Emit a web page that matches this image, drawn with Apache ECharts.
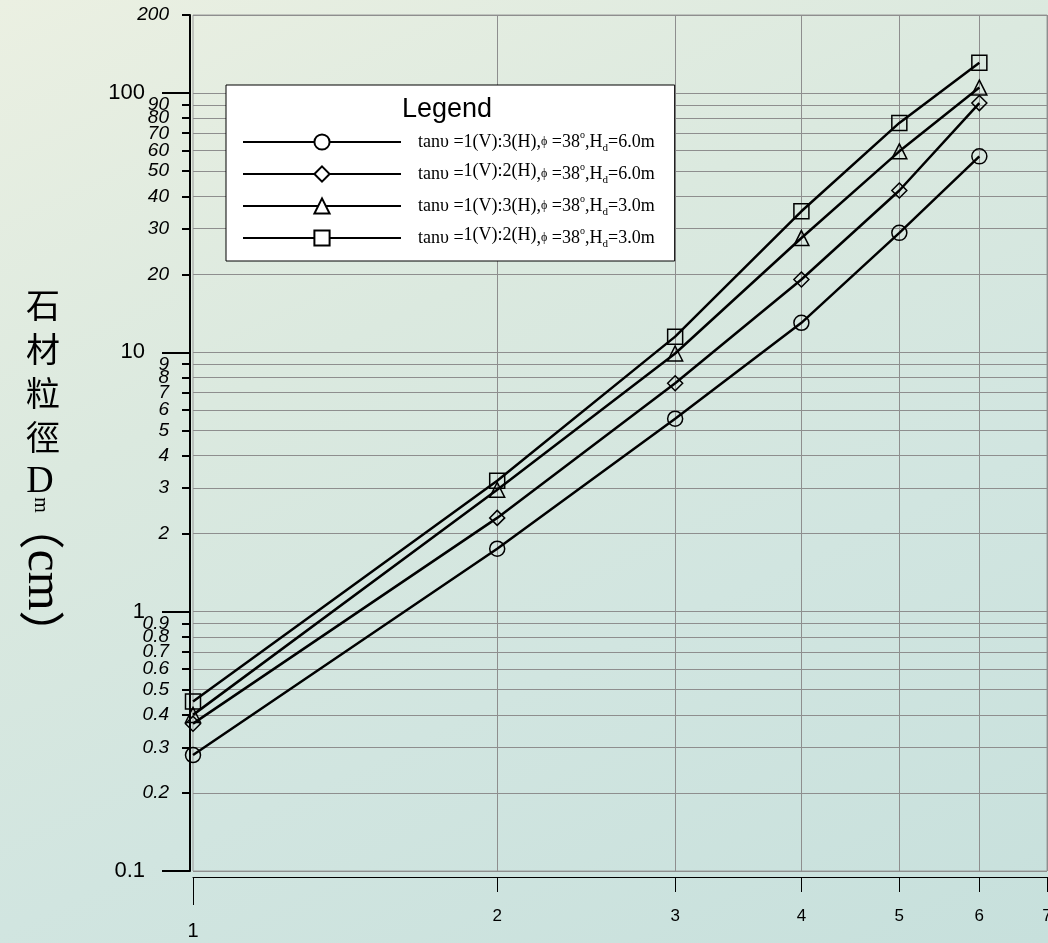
<!DOCTYPE html>
<html>
<head>
<meta charset="utf-8">
<script src="https://cdn.jsdelivr.net/npm/echarts@6/dist/echarts.min.js"></script>
<style>
html, body { margin: 0; padding: 0; }
body { background: linear-gradient(155deg, #ebf0e2 0%, #dbe9df 35%, #d1e5e0 65%, #c7e0dc 100%); }
#main { width: 1048px; height: 943px; }
</style>
</head>
<body>
<div id="main"></div>
<script>
// 坡度 index on x (log), 石材粒徑 Dm (cm) on y (log)
var xValues = [1, 2, 3, 4, 5, 6];
var dmV3H_H6 = [0.28, 1.75, 5.55, 13.0, 28.9, 57.0];
var dmV2H_H6 = [0.37, 2.30, 7.6, 19.1, 42.1, 91.5];
var dmV3H_H3 = [0.40, 2.95, 9.9, 27.6, 59.6, 105];
var dmV2H_H3 = [0.45, 3.20, 11.5, 35.0, 76.7, 131];

var seriesNames = ['V1H3_H6', 'V1H2_H6', 'V1H3_H3', 'V1H2_H3'];
var seriesSymbols = ['circle', 'diamond', 'triangle', 'rect'];
var slopeText = ['1(V):3(H)', '1(V):2(H)', '1(V):3(H)', '1(V):2(H)'];
var slopeRaised = [false, true, false, true];
var heightText = ['6.0', '6.0', '3.0', '3.0'];

var yMajorTicks = [0.1, 1, 10, 100];
var yMinorTicks = [0.2, 0.3, 0.4, 0.5, 0.6, 0.7, 0.8, 0.9,
                   2, 3, 4, 5, 6, 7, 8, 9,
                   20, 30, 40, 50, 60, 70, 80, 90, 200];
var xTicks = [2, 3, 4, 5, 6, 7];
var xFirstTick = [1];

var chart = echarts.init(document.getElementById('main'));

function numLabel(v) {
  return String(parseFloat(Number(v).toPrecision(4)));
}

function pairs(ys) {
  var out = [];
  for (var i = 0; i < xValues.length; i++) {
    out.push([xValues[i], ys[i]]);
  }
  return out;
}

var allData = [dmV3H_H6, dmV2H_H6, dmV3H_H3, dmV2H_H3];
var series = [];
for (var i = 0; i < allData.length; i++) {
  series.push({
    name: seriesNames[i],
    type: 'line',
    data: pairs(allData[i]),
    symbol: seriesSymbols[i],
    symbolSize: 15,
    clip: false,
    lineStyle: { color: '#000', width: 2.5 },
    itemStyle: { color: 'rgba(0,0,0,0)', borderColor: '#000', borderWidth: 1.5 },
    emphasis: { disabled: true },
    z: 3
  });
}

var serif = '"Liberation Serif", "DejaVu Serif", serif';
var sans = '"Liberation Sans", Arial, sans-serif';
var cjk = '"Noto Sans CJK TC"';

var option = {
  animation: false,
  backgroundColor: 'transparent',
  title: {
    text: 'Legend',
    left: 402,
    top: 96,
    padding: 0,
    textStyle: { fontFamily: sans, fontSize: 27, fontWeight: 'normal', color: '#000' }
  },
  legend: {
    orient: 'vertical',
    left: 226,
    top: 85,
    padding: [45, 20, 11, 16],
    itemWidth: 158,
    itemHeight: 19,
    itemGap: 8,
    selectedMode: false,
    backgroundColor: '#fff',
    borderColor: '#000',
    borderWidth: 1,
    borderRadius: 0,
    itemStyle: { color: '#fff' },
    data: seriesNames,
    formatter: function (name) {
      var k = seriesNames.indexOf(name);
      return '{s|}{b|tan\u03c5 =}{' + (slopeRaised[k] ? 'up' : 'b') + '|' + slopeText[k] + '}' +
        '{b|,}{phi|\u03d5}{b| =38}{deg|o}{b|,H}{sub|d}{b|=' + heightText[k] + 'm}';
    },
    textStyle: {
      color: '#000',
      rich: {
        s: { width: 12 },
        b: { fontFamily: serif, fontSize: 18, lineHeight: 24, color: '#000' },
        up: { fontFamily: serif, fontSize: 18, lineHeight: 15, verticalAlign: 'top', color: '#000' },
        phi: { fontFamily: serif, fontSize: 12, lineHeight: 24, color: '#000' },
        deg: { fontFamily: serif, fontSize: 10, lineHeight: 17, verticalAlign: 'top', color: '#000' },
        sub: { fontFamily: serif, fontSize: 11, lineHeight: 12, verticalAlign: 'bottom', color: '#000' }
      }
    }
  },
  grid: {
    left: 193,
    right: 1,
    top: 15,
    bottom: 72,
    show: true,
    borderColor: '#9a9a9a',
    borderWidth: 1,
    backgroundColor: 'transparent',
    containLabel: false,
    outerBoundsMode: 'none'
  },
  xAxis: [
    {
      type: 'log', logBase: 10, min: 1, max: 7,
      position: 'bottom', offset: 6,
      axisLine: { show: true, lineStyle: { color: '#000', width: 1 } },
      axisTick: { show: true, customValues: xTicks, length: 15, lineStyle: { color: '#000', width: 1 } },
      axisLabel: { customValues: xTicks, margin: 31, fontFamily: sans, fontSize: 17, color: '#000', formatter: numLabel },
      splitLine: { show: true, lineStyle: { color: '#8e8e8e', width: 1 } },
      minorTick: { show: false }, minorSplitLine: { show: false }
    },
    {
      type: 'log', logBase: 10, min: 1, max: 7,
      position: 'bottom', offset: 6,
      axisLine: { show: false },
      axisTick: { show: true, customValues: xFirstTick, length: 28, lineStyle: { color: '#000', width: 1 } },
      axisLabel: { customValues: xFirstTick, margin: 44, fontFamily: sans, fontSize: 20, color: '#000', formatter: numLabel },
      splitLine: { show: false }
    }
  ],
  yAxis: [
    {
      type: 'log', logBase: 10, min: 0.1, max: 200,
      position: 'left', offset: 3,
      axisLine: { show: true, lineStyle: { color: '#000', width: 2 } },
      axisTick: { show: true, customValues: yMinorTicks, length: 8, lineStyle: { color: '#000', width: 2 } },
      axisLabel: { customValues: yMinorTicks, margin: 21, hideOverlap: false, fontFamily: sans, fontStyle: 'italic', fontSize: 19, color: '#000', formatter: numLabel },
      splitLine: { show: true, lineStyle: { color: '#8e8e8e', width: 1 } },
      minorTick: { show: false }, minorSplitLine: { show: false }
    },
    {
      type: 'log', logBase: 10, min: 0.1, max: 200,
      position: 'left', offset: 3,
      axisLine: { show: false },
      axisTick: { show: true, customValues: yMajorTicks, length: 28, lineStyle: { color: '#000', width: 2 } },
      axisLabel: { customValues: yMajorTicks, margin: 45, hideOverlap: false, fontFamily: sans, fontSize: 22, color: '#000', formatter: numLabel },
      splitLine: { show: true, lineStyle: { color: '#8e8e8e', width: 1 } }
    }
  ],
  graphic: [
    {
      type: 'text', x: 43, y: 283,
      style: { text: '石\n材\n粒\n徑', font: '34px ' + cjk, lineHeight: 44, align: 'center', verticalAlign: 'top', fill: '#000' }
    },
    {
      type: 'text', x: 40, y: 482,
      style: { text: 'D', font: '38px ' + serif, align: 'center', verticalAlign: 'middle', fill: '#000' }
    },
    {
      type: 'text', x: 40, y: 505, rotation: -Math.PI / 2,
      style: { text: 'm', font: '20px ' + serif, align: 'center', verticalAlign: 'middle', fill: '#000' }
    },
    {
      type: 'text', x: 42, y: 580, rotation: -Math.PI / 2,
      style: {
        text: '{p|（}{c|cm}{p|）}',
        align: 'center', verticalAlign: 'middle', fill: '#000',
        rich: {
          p: { font: '46px ' + cjk, fill: '#000' },
          c: { font: '50px ' + serif, fill: '#000' }
        }
      }
    }
  ],
  series: series
};

chart.setOption(option);
window.addEventListener('resize', function () {
  chart.resize();
});
</script>
</body>
</html>
